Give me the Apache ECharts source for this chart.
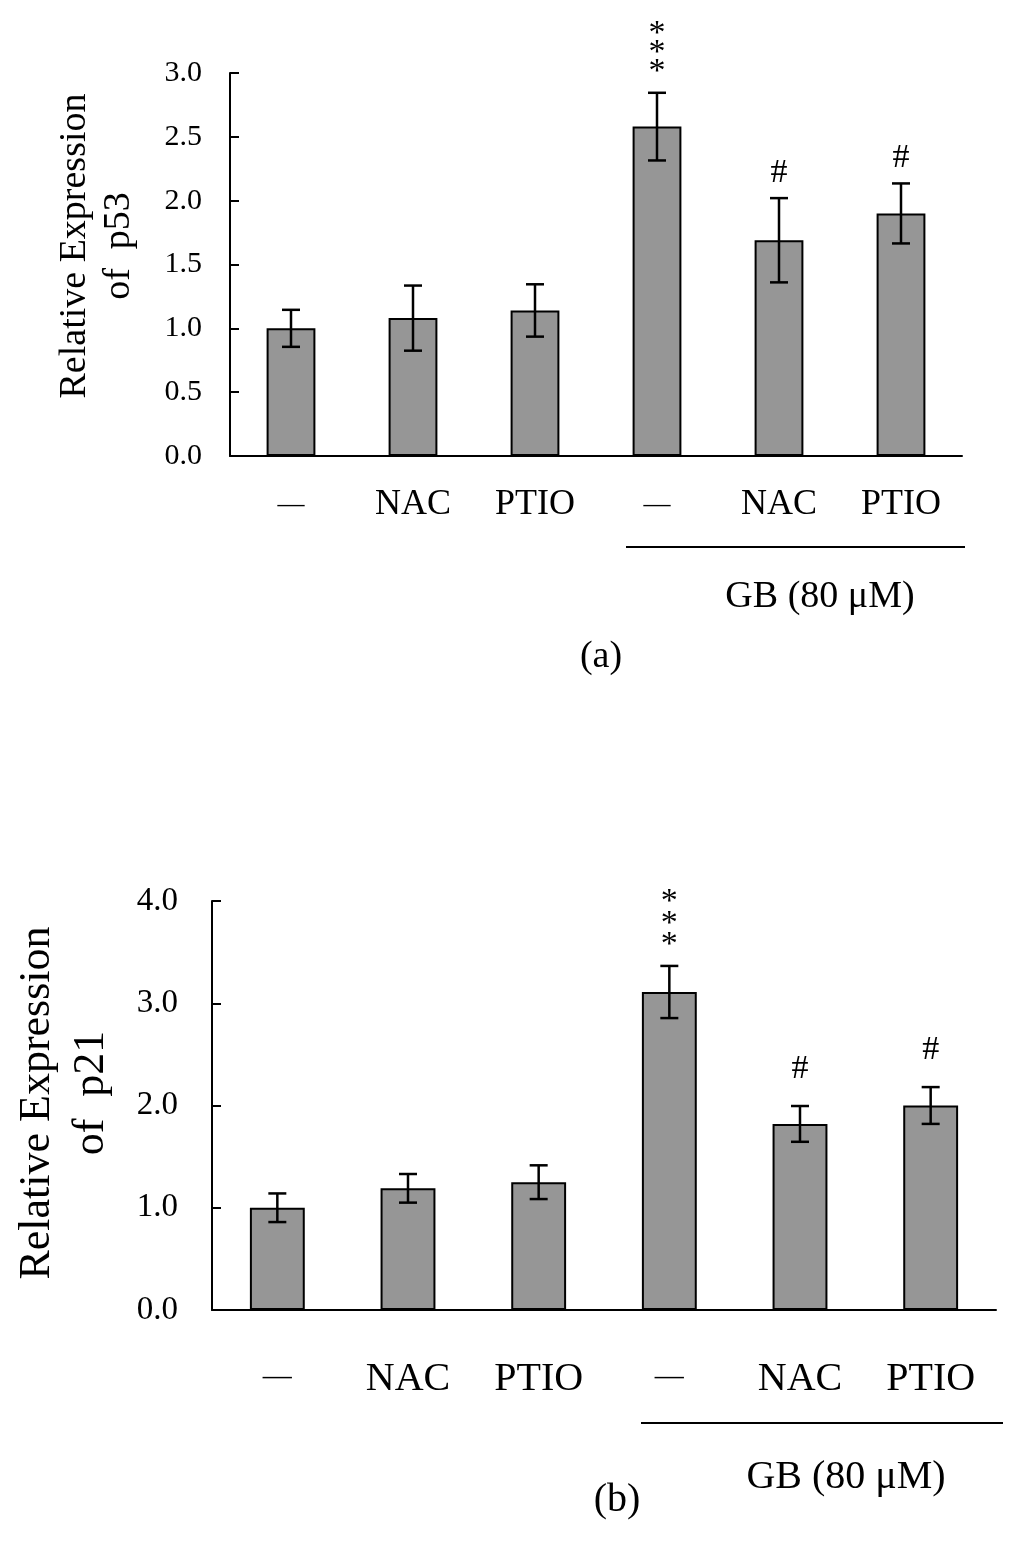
<!DOCTYPE html>
<html>
<head>
<meta charset="utf-8">
<script src="https://cdn.jsdelivr.net/npm/echarts@6/dist/echarts.min.js"></script>
<style>
  html, body { margin: 0; padding: 0; background: #ffffff; }
  #chart { width: 1024px; height: 1549px; }
</style>
</head>
<body>
<div id="chart"></div>
<script>
// ---- Data ----
const categories = ['—', 'NAC', 'PTIO', '—', 'NAC', 'PTIO'];
const p53Mean = [1.00, 1.08, 1.14, 2.58, 1.69, 1.90];
const p53Err  = [0.145, 0.255, 0.205, 0.265, 0.33, 0.235];
const p21Mean = [1.00, 1.19, 1.25, 3.11, 1.82, 2.00];
const p21Err  = [0.14, 0.14, 0.165, 0.255, 0.175, 0.18];
const p53Marks = ['', '', '', '*\n*\n*', '#', '#'];
const p21Marks = ['', '', '', '*\n*\n*', '#', '#'];
const p53Ticks = [0, 3, 0.5];   // min, max, interval
const p21Ticks = [0, 4, 1.0];

const FONT = '"Liberation Serif", "Times New Roman", serif';
const chart = echarts.init(document.getElementById('chart'), null, { renderer: 'canvas' });

function errRender(params, api) {
  const x = api.value(0), m = api.value(1), e = api.value(2);
  const top = api.coord([x, m + e]);
  const bot = api.coord([x, m - e]);
  const hw = 9;
  const st = { stroke: '#000', lineWidth: 2.5 };
  return {
    type: 'group',
    children: [
      { type: 'line', shape: { x1: top[0], y1: top[1], x2: bot[0], y2: bot[1] }, style: st },
      { type: 'line', shape: { x1: top[0] - hw, y1: top[1], x2: top[0] + hw, y2: top[1] }, style: st },
      { type: 'line', shape: { x1: bot[0] - hw, y1: bot[1], x2: bot[0] + hw, y2: bot[1] }, style: st }
    ]
  };
}

const marksRef = { p53Marks: p53Marks, p21Marks: p21Marks };
function markRender(gap) {
  return function (params, api) {
    const x = api.value(0), m = api.value(1), e = api.value(2);
    const txt = marksRef[params.seriesName][params.dataIndex] || '';
    if (!txt) return null;
    const top = api.coord([x, m + e]);
    const isStar = txt.indexOf('*') >= 0;
    return {
      type: 'text',
      style: {
        x: top[0], y: top[1] - (isStar ? gap.star : gap.hash),
        text: txt,
        font: '34px ' + FONT,
        lineHeight: isStar ? gap.lh : 34,
        fill: '#000',
        align: 'center',
        verticalAlign: 'bottom'
      }
    };
  };
}

function seriesData(mean, err) {
  return mean.map((v, i) => [i, v, err[i]]);
}

function catLabel(size, dashSize, margin) {
  return {
    interval: 0, hideOverlap: false,
    color: '#000', fontFamily: FONT, fontSize: size, margin: margin,
    formatter: v => v === '—' ? '{d|—}' : v,
    rich: { d: { fontFamily: FONT, fontSize: dashSize, color: '#000', padding: [4, 0, 0, 0] } }
  };
}

const option = {
  backgroundColor: '#ffffff',
  animation: false,
  grid: [
    { left: 230, top: 73, width: 732, height: 383 },
    { left: 212, top: 901, width: 784, height: 409 }
  ],
  xAxis: [
    {
      type: 'category', gridIndex: 0, data: categories,
      axisLine: { lineStyle: { color: '#000', width: 2 } },
      axisTick: { inside: true, length: 8, lineStyle: { color: '#000', width: 2 } },
      axisLabel: catLabel(36, 27, 31)
    },
    {
      type: 'category', gridIndex: 1, data: categories,
      axisLine: { lineStyle: { color: '#000', width: 2 } },
      axisTick: { inside: true, length: 8, lineStyle: { color: '#000', width: 2 } },
      axisLabel: catLabel(40, 29, 49)
    }
  ],
  yAxis: [
    {
      type: 'value', gridIndex: 0, min: p53Ticks[0], max: p53Ticks[1], interval: p53Ticks[2],
      axisLine: { show: true, lineStyle: { color: '#000', width: 2 } },
      axisTick: { show: true, inside: true, length: 9, lineStyle: { color: '#000', width: 2 } },
      splitLine: { show: false },
      axisLabel: { color: '#000', fontFamily: FONT, fontSize: 30, margin: 28,
        formatter: v => v.toFixed(1) }
    },
    {
      type: 'value', gridIndex: 1, min: p21Ticks[0], max: p21Ticks[1], interval: p21Ticks[2],
      axisLine: { show: true, lineStyle: { color: '#000', width: 2 } },
      axisTick: { show: true, inside: true, length: 9, lineStyle: { color: '#000', width: 2 } },
      splitLine: { show: false },
      axisLabel: { color: '#000', fontFamily: FONT, fontSize: 33, margin: 34,
        formatter: v => v.toFixed(1) }
    }
  ],
  series: [
    {
      type: 'bar', xAxisIndex: 0, yAxisIndex: 0, data: p53Mean, barWidth: '40%',
      itemStyle: { color: '#969696', borderColor: '#000', borderWidth: 2 }
    },
    {
      type: 'custom', xAxisIndex: 0, yAxisIndex: 0, renderItem: errRender,
      data: seriesData(p53Mean, p53Err), z: 5
    },
    {
      type: 'custom', name: 'p53Marks', xAxisIndex: 0, yAxisIndex: 0,
      renderItem: markRender({ star: 11, hash: 8, lh: 19 }),
      data: seriesData(p53Mean, p53Err), z: 5, clip: false
    },
    {
      type: 'bar', xAxisIndex: 1, yAxisIndex: 1, data: p21Mean, barWidth: '42%',
      itemStyle: { color: '#969696', borderColor: '#000', borderWidth: 2 }
    },
    {
      type: 'custom', xAxisIndex: 1, yAxisIndex: 1, renderItem: errRender,
      data: seriesData(p21Mean, p21Err), z: 5
    },
    {
      type: 'custom', name: 'p21Marks', xAxisIndex: 1, yAxisIndex: 1,
      renderItem: markRender({ star: 10, hash: 20, lh: 21.5 }),
      data: seriesData(p21Mean, p21Err), z: 5, clip: false
    }
  ],
  graphic: [
    // panel (a) y-axis title
    { type: 'text', x: 75, y: 246, rotation: Math.PI / 2,
      style: { text: 'Relative Expression', font: '38px ' + FONT, fill: '#000', align: 'center', verticalAlign: 'middle' } },
    { type: 'text', x: 119, y: 246, rotation: Math.PI / 2,
      style: { text: 'of  p53', font: '38px ' + FONT, fill: '#000', align: 'center', verticalAlign: 'middle' } },
    // panel (a) group line and label
    { type: 'line', shape: { x1: 626, y1: 547, x2: 965, y2: 547 }, style: { stroke: '#000', lineWidth: 2 } },
    { type: 'text', x: 820, y: 597,
      style: { text: 'GB (80 μM)', font: '38px ' + FONT, fill: '#000', align: 'center', verticalAlign: 'middle' } },
    { type: 'text', x: 601, y: 657,
      style: { text: '(a)', font: '38px ' + FONT, fill: '#000', align: 'center', verticalAlign: 'middle' } },
    // panel (b) y-axis title
    { type: 'text', x: 37, y: 1103, rotation: Math.PI / 2,
      style: { text: 'Relative Expression', font: '44px ' + FONT, fill: '#000', align: 'center', verticalAlign: 'middle' } },
    { type: 'text', x: 91, y: 1093, rotation: Math.PI / 2,
      style: { text: 'of  p21', font: '44px ' + FONT, fill: '#000', align: 'center', verticalAlign: 'middle' } },
    // panel (b) group line and label
    { type: 'line', shape: { x1: 641, y1: 1423, x2: 1003, y2: 1423 }, style: { stroke: '#000', lineWidth: 2 } },
    { type: 'text', x: 846, y: 1477,
      style: { text: 'GB (80 μM)', font: '40px ' + FONT, fill: '#000', align: 'center', verticalAlign: 'middle' } },
    { type: 'text', x: 617, y: 1500,
      style: { text: '(b)', font: '40px ' + FONT, fill: '#000', align: 'center', verticalAlign: 'middle' } }
  ]
};
chart.setOption(option);
</script>
</body>
</html>
